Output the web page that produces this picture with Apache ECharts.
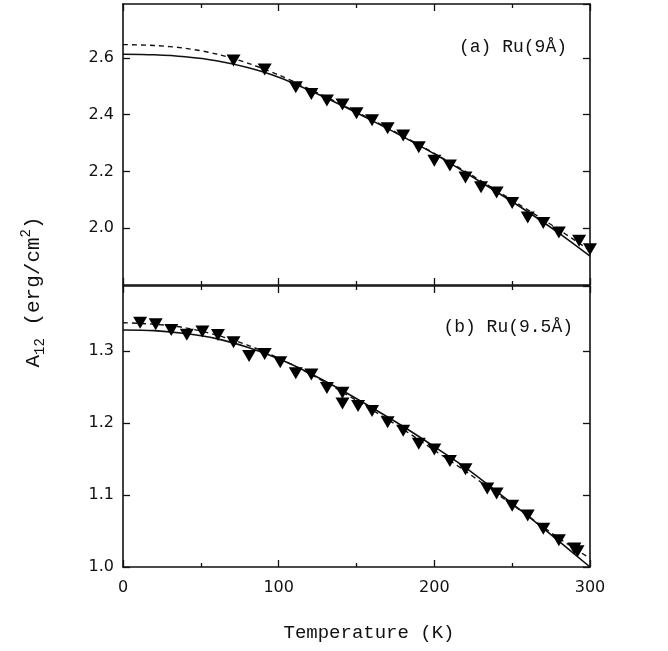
<!DOCTYPE html>
<html>
<head>
<meta charset="utf-8">
<script src="https://cdn.jsdelivr.net/npm/echarts@6/dist/echarts.min.js"></script>
<style>
html,body{margin:0;padding:0;background:#fff;}
#chart{width:668px;height:651px;}
</style>
</head>
<body>
<div id="chart"></div>
<script>
// ---------- data ----------
// Panel (a) Ru(9Å): measured points [T (K), A12 (erg/cm^2)]
var pointsA = [
  [71, 2.591], [91, 2.559], [111, 2.497], [121, 2.473], [131, 2.450], [141, 2.436],
  [150, 2.405], [160, 2.380], [170, 2.352], [180, 2.327], [190, 2.285], [200, 2.238],
  [210, 2.221], [220, 2.179], [230, 2.144], [240, 2.126], [250, 2.089], [260, 2.038],
  [270, 2.018], [280, 1.985], [293, 1.956], [300, 1.926]
];
var curveT = [0, 20, 40, 60, 80, 100, 120, 140, 160, 180, 200, 220, 240, 260, 280, 300];
var solidA  = [2.613, 2.611, 2.604, 2.590, 2.566, 2.532, 2.485, 2.434, 2.379, 2.322, 2.262, 2.196, 2.128, 2.058, 1.983, 1.902];
var dashedA = [2.647, 2.644, 2.634, 2.614, 2.582, 2.540, 2.490, 2.437, 2.382, 2.324, 2.264, 2.200, 2.133, 2.065, 1.995, 1.922];

// Panel (b) Ru(9.5Å)
var pointsB = [
  [11, 1.339], [21, 1.337], [31, 1.329], [41, 1.3225], [51, 1.327], [61, 1.322],
  [71, 1.312], [81, 1.293], [91, 1.2956], [101, 1.284], [111, 1.269], [121, 1.267],
  [131, 1.2485], [141, 1.242], [141, 1.227], [151, 1.2233], [160, 1.2165], [170, 1.201],
  [180, 1.189], [190, 1.171], [200, 1.163], [210, 1.147], [220, 1.1356], [234, 1.109],
  [240, 1.102], [250, 1.085], [260, 1.0714], [270, 1.053], [280, 1.037], [290, 1.0256],
  [292, 1.022]
];
var solidB  = [1.329, 1.328, 1.324, 1.317, 1.305, 1.289, 1.269, 1.246, 1.221, 1.195, 1.167, 1.138, 1.105, 1.071, 1.036, 1.000];
var dashedB = [1.339, 1.337, 1.332, 1.322, 1.308, 1.290, 1.268, 1.244, 1.218, 1.191, 1.162, 1.133, 1.102, 1.071, 1.040, 1.012];

var xTicks = [0, 100, 200, 300];
var yTicksA = [2.0, 2.2, 2.4, 2.6];
var yTicksB = [1.0, 1.1, 1.2, 1.3];

function pairs(xs, ys) { return xs.map(function (x, i) { return [x, ys[i]]; }); }

// ---------- chart ----------
var chart = echarts.init(document.getElementById('chart'));
var INK = '#111';
var lineStyle = { color: INK, width: 1.6 };
var labelFont = { fontFamily: 'DejaVu Sans', fontSize: 16, color: INK };

function xAxis(grid, pos, showLabel) {
  return {
    type: 'value', gridIndex: grid, position: pos, min: 0, max: 300, interval: 100,
    axisLine: { show: true, onZero: false, lineStyle: lineStyle },
    axisTick: { show: true, inside: true, length: 7, lineStyle: { color: INK, width: 1.3 } },
    minorTick: { show: true, splitNumber: 2, length: 4, lineStyle: { color: INK, width: 1.3 } },
    splitLine: { show: false },
    axisLabel: Object.assign({ show: showLabel, margin: 13,
      formatter: function (v) { return xTicks.indexOf(v) >= 0 ? String(v) : ''; } }, labelFont)
  };
}
function yAxis(grid, pos, min, max, interval, ticks, showLabel, showMinLabel) {
  return {
    type: 'value', gridIndex: grid, position: pos, min: min, max: max, interval: interval,
    axisLine: { show: true, onZero: false, lineStyle: lineStyle },
    axisTick: { show: true, inside: true, length: 7, lineStyle: { color: INK, width: 1.3 } },
    splitLine: { show: false },
    axisLabel: Object.assign({ show: showLabel, margin: 9, showMinLabel: showMinLabel, showMaxLabel: false,
      formatter: function (v) {
        var r = Math.round(v * 10) / 10;
        return ticks.indexOf(r) >= 0 ? r.toFixed(1) : '';
      } }, labelFont)
  };
}

var markerStyle = { color: '#000', opacity: 1 };

var option = {
  backgroundColor: '#fff',
  animation: false,
  grid: [
    { left: 123, top: 4, width: 467, height: 281 },
    { left: 123, top: 286, width: 467, height: 281 }
  ],
  xAxis: [
    xAxis(0, 'bottom', false),
    xAxis(0, 'top', false),
    xAxis(1, 'bottom', true),
    xAxis(1, 'top', false)
  ],
  yAxis: [
    yAxis(0, 'left', 1.8, 2.79, 0.2, yTicksA, true, false),
    yAxis(0, 'right', 1.8, 2.79, 0.2, yTicksA, false, false),
    yAxis(1, 'left', 1.0, 1.39, 0.1, yTicksB, true, true),
    yAxis(1, 'right', 1.0, 1.39, 0.1, yTicksB, false, true)
  ],
  series: [
    { type: 'line', xAxisIndex: 0, yAxisIndex: 0, data: pairs(curveT, solidA), smooth: 0.3,
      showSymbol: false, lineStyle: { color: INK, width: 1.6 }, z: 2 },
    { type: 'line', xAxisIndex: 0, yAxisIndex: 0, data: pairs(curveT, dashedA), smooth: 0.3,
      showSymbol: false, lineStyle: { color: INK, width: 1.4, type: [5, 4] }, z: 2 },
    { type: 'scatter', xAxisIndex: 0, yAxisIndex: 0, data: pointsA, symbol: 'triangle',
      symbolRotate: 180, symbolSize: [14, 12], itemStyle: markerStyle, z: 3 },
    { type: 'line', xAxisIndex: 2, yAxisIndex: 2, data: pairs(curveT, solidB), smooth: 0.3,
      showSymbol: false, lineStyle: { color: INK, width: 1.6 }, z: 2 },
    { type: 'line', xAxisIndex: 2, yAxisIndex: 2, data: pairs(curveT, dashedB), smooth: 0.3,
      showSymbol: false, lineStyle: { color: INK, width: 1.4, type: [5, 4] }, z: 2 },
    { type: 'scatter', xAxisIndex: 2, yAxisIndex: 2, data: pointsB, symbol: 'triangle',
      symbolRotate: 180, symbolSize: [14, 12], itemStyle: markerStyle, z: 3 }
  ],
  graphic: [
    { type: 'text', x: 567, y: 47,
      style: { text: '(a) Ru(9Å)', font: '18px "Liberation Mono"', fill: INK, align: 'right', verticalAlign: 'middle' } },
    { type: 'text', x: 573, y: 327,
      style: { text: '(b) Ru(9.5Å)', font: '18px "Liberation Mono"', fill: INK, align: 'right', verticalAlign: 'middle' } },
    { type: 'text', x: 369, y: 633,
      style: { text: 'Temperature (K)', font: '19px "Liberation Mono"', fill: INK, align: 'center', verticalAlign: 'middle' } },
    { type: 'text', x: 33, y: 292, rotation: Math.PI / 2,
      style: {
        text: '{a|A}{sub|12}{a| (erg/cm}{sup|2}{a|)}',
        align: 'center', verticalAlign: 'middle',
        rich: {
          a: { fontFamily: 'Liberation Mono', fontSize: 21, lineHeight: 28, fill: INK },
          sub: { fontFamily: 'Liberation Mono', fontSize: 14, lineHeight: 14, verticalAlign: 'bottom', fill: INK },
          sup: { fontFamily: 'Liberation Mono', fontSize: 14, lineHeight: 12, verticalAlign: 'top', fill: INK }
        }
      } }
  ]
};
chart.setOption(option);
</script>
</body>
</html>
